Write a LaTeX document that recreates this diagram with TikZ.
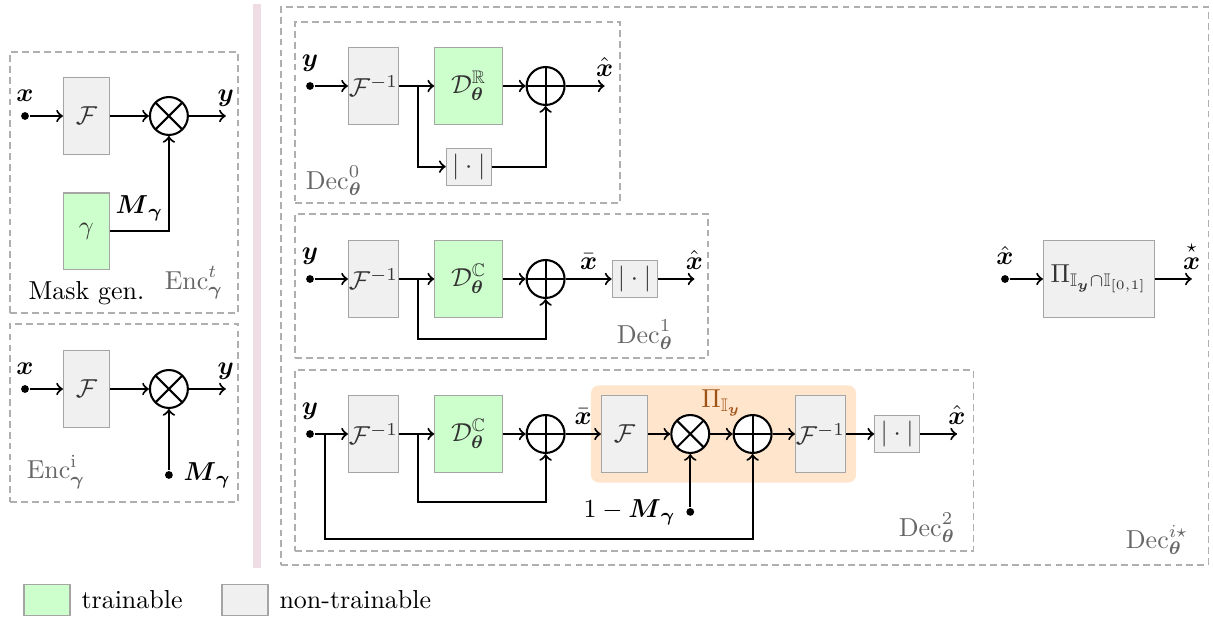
\documentclass[tikz,border=0pt]{standalone}
\usepackage{amsmath}
\usepackage{amssymb}
\usetikzlibrary{arrows, positioning, backgrounds, fit}

\definecolor{trainfill}{RGB}{204,255,204}
\definecolor{fixfill}{RGB}{240,240,240}
\definecolor{boxline}{RGB}{165,165,165}
\definecolor{projfill}{RGB}{255,229,204}
\definecolor{projtext}{RGB}{158,82,22}
\definecolor{framegray}{RGB}{175,175,175}
\definecolor{sepbar}{RGB}{239,221,229}

\tikzstyle{fixbox} = [draw=boxline, fill=fixfill, text=black!80, thin,
   minimum width=17.7pt, minimum height=29.3pt, inner sep=1pt]
\tikzstyle{invbox} = [fixbox, minimum width=19.3pt, inner sep=0pt]
\tikzstyle{trainbox} = [fixbox, fill=trainfill, minimum width=26.2pt]
\tikzstyle{absbox} = [fixbox, minimum width=17.3pt, minimum height=14.2pt]
\tikzstyle{inport} = [circle, fill, inner sep=0pt, minimum size=3pt]
\tikzstyle{sumop} = [circle, draw, thick, fill=white, inner sep=0pt, minimum size=14.6pt,
   path picture={\draw[thick] (path picture bounding box.north) -- (path picture bounding box.south)
   (path picture bounding box.west) -- (path picture bounding box.east);}]
\tikzstyle{prodop} = [circle, draw, thick, fill=white, inner sep=0pt, minimum size=14.6pt,
   path picture={\draw[thick] (path picture bounding box.north west) -- (path picture bounding box.south east)
   (path picture bounding box.south west) -- (path picture bounding box.north east);}]
\tikzstyle{grpframe} = [draw=framegray, thin, dash pattern=on 2.6pt off 1.6pt, inner sep=0pt]
\tikzstyle{grplabel} = [text=black!60]
\tikzstyle{projbg} = [fill=projfill, rounded corners=3pt, inner sep=3.85pt]
\tikzstyle{projlabel} = [text=projtext]

\begin{document}
\begin{tikzpicture}[
  x=0.385pt, y=-0.385pt,
  thick,
  node distance=14.2pt,
  ]
  \useasboundingbox (0,0) rectangle (1213,620);
  \draw[sepbar, line width=3pt] (257,4) -- (257,568);

  % encoder, trained mask
  \node[grpframe, fit={(10,52) (238,313)}] (enct) {};
  \node[inport, label=above:$\boldsymbol{x}$] (xt) at (25,116) {};
  \node[fixbox, right=12.7pt of xt] (ft) {$\mathcal{F}$};
  \node[prodop, right=15pt of ft] (ott) {};
  \coordinate[right=of ott] (yt);
  \node[trainbox, minimum width=17.7pt, below=14.6pt of ft] (gam) {$\gamma$};
  \node[below=1pt of gam] (mask) {Mask gen.};
  \node[grplabel] (enctlbl) at (194,283) {$\mathrm{Enc}^{t}_{\boldsymbol{\gamma}}$};
  \draw[->] (xt) -- (ft);
  \draw[->] (ft) -- (ott);
  \draw[->] (ott) -- (yt) node[above] {$\boldsymbol{y}$};
  \draw[->] (gam) -| (ott) node[pos=0.25, above] {$\boldsymbol{M}_{\boldsymbol{\gamma}}$};

  % encoder, given mask
  \node[grpframe, fit={(10,324) (238,502)}] (enci) {};
  \node[inport, label=above:$\boldsymbol{x}$] (xi) at (25,389) {};
  \node[fixbox, right=12.7pt of xi] (fi) {$\mathcal{F}$};
  \node[prodop, right=15pt of fi] (oti) {};
  \coordinate[right=of oti] (yi);
  \node[inport, below=23.5pt of oti, label=right:$\boldsymbol{M}_{\boldsymbol{\gamma}}$] (mi) {};
  \node[grplabel] (encilbl) at (56,472) {$\mathrm{Enc}^{\mathrm{i}}_{\boldsymbol{\gamma}}$};
  \draw[->] (xi) -- (fi);
  \draw[->] (fi) -- (oti);
  \draw[->] (oti) -- (yi) node[above] {$\boldsymbol{y}$};
  \draw[->] (mi) -- (oti);

  % decoders
  \node[grpframe, fit={(281,7) (1208,565)}] (decs) {};
  \node[grplabel] (decslbl) at (1157,540) {$\mathrm{Dec}^{i\star}_{\boldsymbol{\theta}}$};

  % Dec 0
  \node[grpframe, fit={(295,22) (620,203)}] (deca) {};
  \node[inport, label=above:$\boldsymbol{y}$] (ya) at (310,86) {};
  \node[invbox, right=12.7pt of ya] (ifa) {$\mathcal{F}^{-1}$};
  \node[trainbox, right=13.5pt of ifa] (da) {$\mathcal{D}^{\mathbb{R}}_{\boldsymbol{\theta}}$};
  \node[sumop, right=8.6pt of da] (pla) {};
  \coordinate[right=15pt of pla] (xa);
  \node[absbox, below=8.9pt of da] (aba) {$|\cdot|$};
  \coordinate[right=7.3pt of ifa] (ba);
  \node[grplabel] (decalbl) at (334,181) {$\mathrm{Dec}^{0}_{\boldsymbol{\theta}}$};
  \draw[->] (ya) -- (ifa);
  \draw[->] (ifa) -- (da);
  \draw[->] (da) -- (pla);
  \draw[->] (pla) -- (xa) node[above] {$\hat{\boldsymbol{x}}$};
  \draw[->] (ba) |- (aba);
  \draw[->] (aba) -| (pla);

  % Dec 1
  \node[grpframe, fit={(295,214) (708,358)}] (decb) {};
  \node[inport, label=above:$\boldsymbol{y}$] (yb) at (310,279) {};
  \node[invbox, right=12.7pt of yb] (ifb) {$\mathcal{F}^{-1}$};
  \node[trainbox, right=13.5pt of ifb] (db) {$\mathcal{D}^{\mathbb{C}}_{\boldsymbol{\theta}}$};
  \node[sumop, right=8.6pt of db] (plb) {};
  \node[absbox, right=17.7pt of plb] (abb) {$|\cdot|$};
  \coordinate[right=of abb] (xb);
  \coordinate[right=7.3pt of ifb] (bb);
  \node[grplabel] (decblbl) at (645,335) {$\mathrm{Dec}^{1}_{\boldsymbol{\theta}}$};
  \draw[->] (yb) -- (ifb);
  \draw[->] (ifb) -- (db);
  \draw[->] (db) -- (plb);
  \draw[->] (plb) -- (abb) node[midway, above] {$\bar{\boldsymbol{x}}$};
  \draw[->] (abb) -- (xb) node[above] {$\hat{\boldsymbol{x}}$};
  \draw[->] (bb) -- ++(0,-23.1pt) -| (plb);

  % Dec 2
  \node[grpframe, fit={(295,370) (973,551)}] (decc) {};
  \node[inport, label=above:$\boldsymbol{y}$] (yc) at (310,434) {};
  \node[invbox, right=12.7pt of yc] (ifc) {$\mathcal{F}^{-1}$};
  \node[trainbox, right=13.5pt of ifc] (dc) {$\mathcal{D}^{\mathbb{C}}_{\boldsymbol{\theta}}$};
  \node[sumop, right=8.6pt of dc] (plc) {};
  \node[fixbox, right=13.6pt of plc] (fc) {$\mathcal{F}$};
  \node[prodop, right=8.6pt of fc] (otc) {};
  \node[sumop, right=8.6pt of otc] (pld) {};
  \node[invbox, right=8.6pt of pld] (ifd) {$\mathcal{F}^{-1}$};
  \node[absbox, right=10.8pt of ifd] (abc) {$|\cdot|$};
  \coordinate[right=of abc] (xc);
  \node[inport, below=20.4pt of otc, label=left:$1-\boldsymbol{M}_{\boldsymbol{\gamma}}$] (mc) {};
  \coordinate[right=3.9pt of yc] (bc0);
  \coordinate[right=7.3pt of ifc] (bc);
  \path (otc) -- (pld) node[midway, above=3pt, projlabel] (pilbl) {$\Pi_{\mathbb{I}_{\boldsymbol{y}}}$};
  \begin{scope}[on background layer]
    \node[projbg, fit=(fc) (ifd)] (proj) {};
  \end{scope}
  \node[grplabel] (decclbl) at (927,528) {$\mathrm{Dec}^{2}_{\boldsymbol{\theta}}$};
  \draw[->] (yc) -- (ifc);
  \draw[->] (ifc) -- (dc);
  \draw[->] (dc) -- (plc);
  \draw[->] (plc) -- (fc) node[midway, above] {$\bar{\boldsymbol{x}}$};
  \draw[->] (fc) -- (otc);
  \draw[->] (otc) -- (pld);
  \draw[->] (pld) -- (ifd);
  \draw[->] (ifd) -- (abc);
  \draw[->] (abc) -- (xc) node[above] {$\hat{\boldsymbol{x}}$};
  \draw[->] (mc) -- (otc);
  \draw[->] (bc) -- ++(0,-26.2pt) -| (plc);
  \draw[->] (bc0) -- ++(0,-40.4pt) -| (pld);

  % final projection
  \node[inport, label=above:$\hat{\boldsymbol{x}}$] (xr) at (1005,279) {};
  \node[fixbox, minimum width=42.7pt, right=12.7pt of xr] (projr) {$\Pi_{\mathbb{I}_{\boldsymbol{y}}\cap\mathbb{I}_{[0,1]}}$};
  \coordinate[right=of projr] (xs);
  \draw[->] (xr) -- (projr);
  \draw[->] (projr) -- (xs) node[above] {$\overset{\star}{\boldsymbol{x}}$};

  % legend
  \node[trainbox, minimum width=17.7pt, minimum height=11.9pt] (lgtrain) at (47,600) {};
  \node[right=0.5pt of lgtrain] (lgtraintxt) {trainable};
  \node[fixbox, minimum width=17.7pt, minimum height=11.9pt] (lgfix) at (245,600) {};
  \node[right=0.5pt of lgfix] (lgfixtxt) {non-trainable};
\end{tikzpicture}
\end{document}
